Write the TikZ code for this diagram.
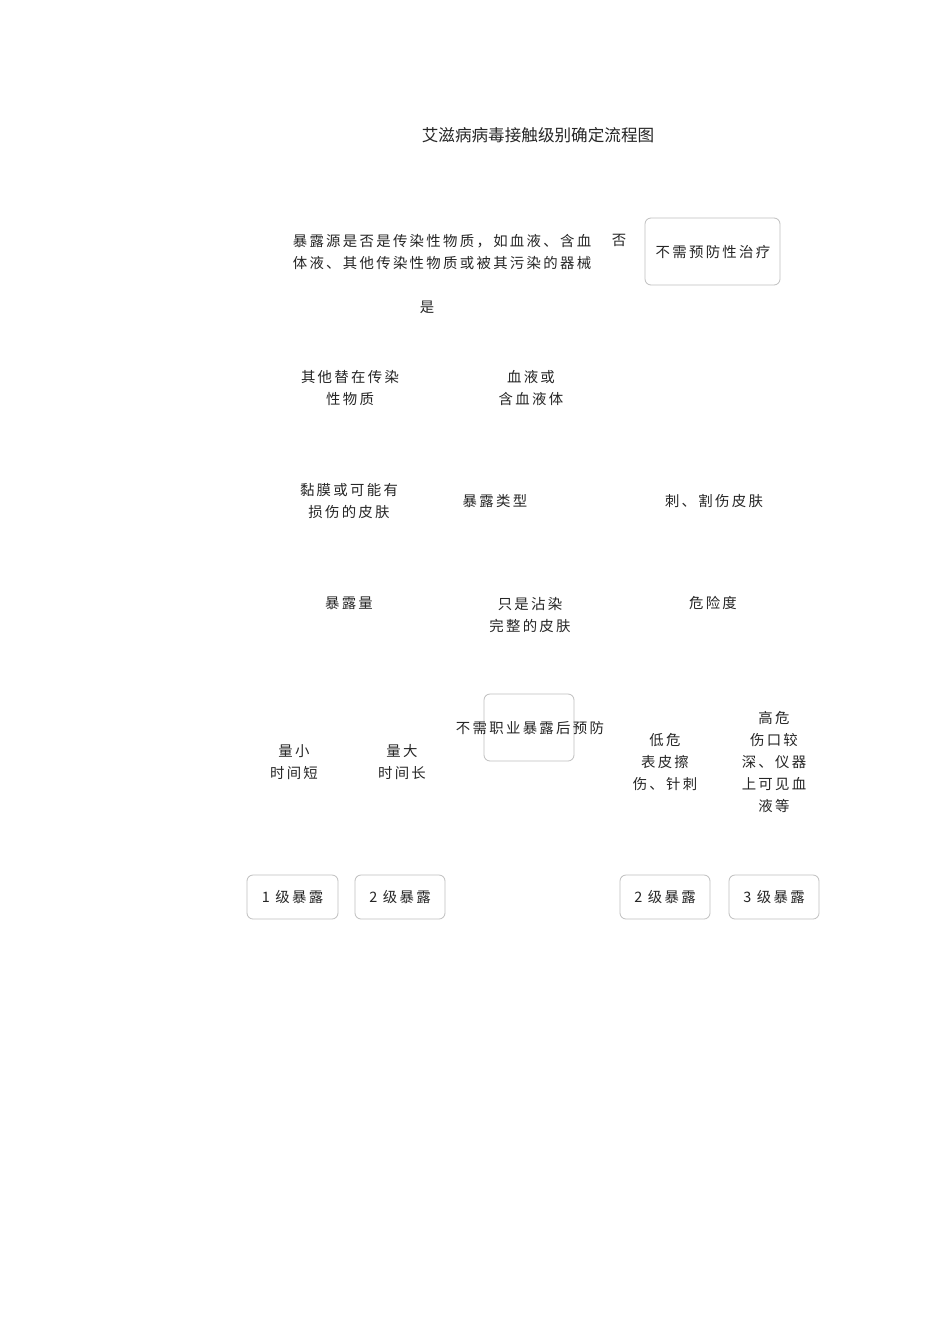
\documentclass[tikz,border=0pt]{standalone}
\usepackage{fontspec}
\setmainfont{Noto Sans CJK SC}
\newfontfamily\cjkbody[LetterSpace=16]{Noto Sans CJK SC}
\newfontfamily\cjktitle{Noto Sans CJK SC}
\begin{document}
\begin{tikzpicture}[x=1pt,y=-1pt,
  lbl/.style={font=\cjkbody\fontsize{14.4}{22}\selectfont, align=center, inner sep=0pt, text=black!85},
  ttl/.style={font=\cjktitle\fontsize{16.6}{20}\selectfont, inner sep=0pt, text=black!85},
  rbox/.style={draw=black!25, line width=0.8pt, rounded corners=6pt, fill=none}]
\useasboundingbox (0,0) rectangle (950,1344);
\fill[white] (0,0) rectangle (950,1344);
% title
\node[ttl] (title) at (538,135) {艾滋病病毒接触级别确定流程图};
% question
\node[lbl, align=left] (q) at (442,252) {暴露源是否是传染性物质，如血液、含血\\体液、其他传染性物质或被其污染的器械};
\node[lbl] (no) at (619,240) {否};
\draw[rbox] (645,218) rectangle (780,285);
\node[lbl] (noprev) at (713,252) {不需预防性治疗};
\node[lbl] (yes) at (427,307) {是};
% second level
\node[lbl] (other) at (350,388) {其他替在传染\\性物质};
\node[lbl] (blood) at (531,388) {血液或\\含血液体};
% third level
\node[lbl] (mucosa) at (349,501) {黏膜或可能有\\损伤的皮肤};
\node[lbl] (type) at (495,501) {暴露类型};
\node[lbl] (stab) at (714,501) {刺、割伤皮肤};
% fourth level
\node[lbl] (amount) at (349,603) {暴露量};
\node[lbl] (intact) at (530,615) {只是沾染\\完整的皮肤};
\node[lbl] (risk) at (713,603) {危险度};
% fifth level
\draw[rbox] (484,694) rectangle (574,761);
\node[lbl] (nopep) at (530,728) {不需职业暴露后预防};
\node[lbl] (small) at (294,762) {量小\\时间短};
\node[lbl] (large) at (402,762) {量大\\时间长};
\node[lbl] (low) at (665,762) {低危\\表皮擦\\伤、针刺};
\node[lbl] (high) at (774,762) {高危\\伤口较\\深、仪器\\上可见血\\液等};
% levels
\draw[rbox] (247,875) rectangle (338,919);
\node[lbl] (l1) at (292.5,897) {1 级暴露};
\draw[rbox] (355,875) rectangle (445,919);
\node[lbl] (l2a) at (400,897) {2 级暴露};
\draw[rbox] (620,875) rectangle (710,919);
\node[lbl] (l2b) at (665,897) {2 级暴露};
\draw[rbox] (729,875) rectangle (819,919);
\node[lbl] (l3) at (774,897) {3 级暴露};
\end{tikzpicture}
\end{document}
